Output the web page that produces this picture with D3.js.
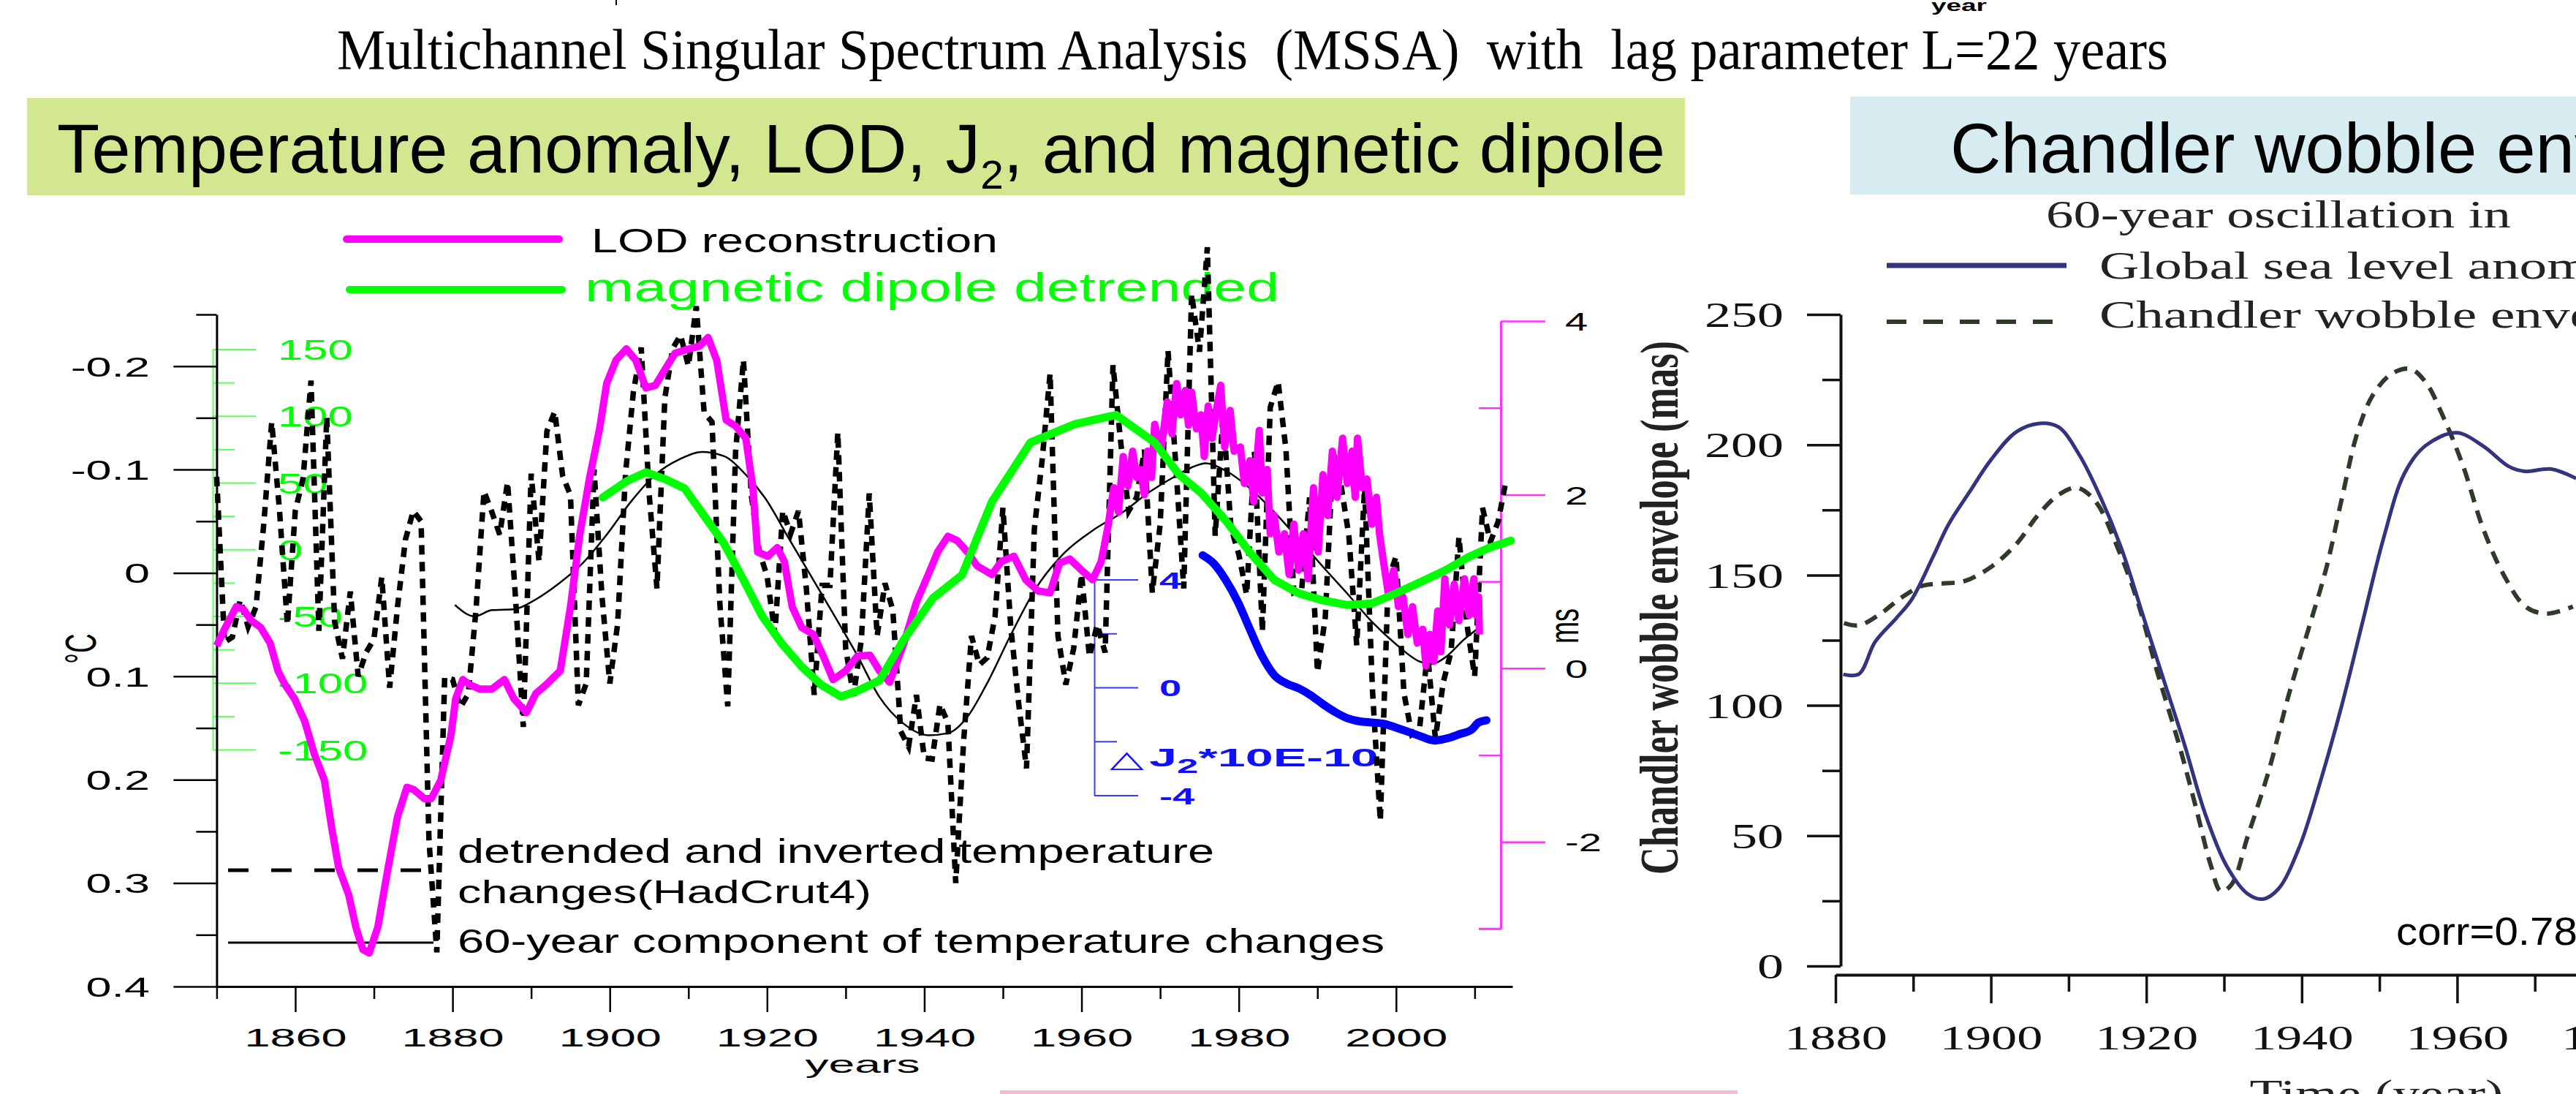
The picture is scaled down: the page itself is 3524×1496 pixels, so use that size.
<!DOCTYPE html>
<html>
<head>
<meta charset="utf-8">
<script src="https://d3js.org/d3.v7.min.js"></script>
<style>
  html, body { margin: 0; padding: 0; background: #fff; overflow: hidden; }
  svg { display: block; }
</style>
</head>
<body>
<svg id="chart"></svg>
<script>
// ---------------- data ----------------
// detrended HadCrut4 temperature, one value per year from 1850
const tempStart = 1850;
const tempDetrended = [
  -0.093, 0.067, 0.062, 0.026, 0.052, 0.033, -0.048, -0.146, -0.060, 0.050,
  -0.060, -0.092, -0.186, 0.056, -0.151, 0.047, 0.083, 0.018, 0.100, 0.077,
  0.064, 0.004, 0.111, 0.033, -0.032, -0.060, -0.050, 0.258, 0.367, 0.101,
  0.103, 0.130, 0.117, 0.034, -0.079, -0.059, -0.037, -0.088, 0.023, 0.149,
  -0.096, -0.011, -0.137, -0.156, -0.094, -0.075, 0.128, 0.107, -0.100, 0.022,
  0.107, 0.049, -0.096, -0.175, -0.218, -0.077, 0.015, -0.169, -0.217, -0.230,
  -0.200, -0.258, -0.155, -0.146, 0.030, 0.129, -0.117, -0.206, -0.075, -0.021,
  0.003, 0.059, -0.060, -0.038, -0.060, 0.015, 0.118, 0.012, 0.012, -0.136,
  0.073, 0.119, 0.064, -0.077, 0.061, 0.010, 0.036, 0.153, 0.168, 0.118,
  0.179, 0.180, 0.127, 0.145, 0.300, 0.163, 0.061, 0.089, 0.082, 0.042,
  -0.063, 0.052, 0.126, 0.189, -0.043, -0.110, -0.193, 0.061, 0.108, 0.073,
  0.001, 0.081, 0.050, 0.077, -0.201, -0.125, -0.060, -0.073, -0.119, 0.019,
  -0.047, -0.215, -0.103, 0.015, -0.270, -0.214, -0.315, -0.036, -0.154, -0.044,
  -0.018, 0.021, -0.117, 0.057, -0.160, -0.185, -0.119, 0.019, 0.016, -0.073,
  0.096, 0.043, -0.117, -0.085, -0.036, 0.070, -0.083, 0.113, 0.240, 0.007,
  -0.016, 0.116, 0.156, 0.150, 0.077, 0.160, 0.106, 0.076, -0.035, 0.049,
  0.100, -0.063, -0.030, -0.050, -0.090
];

// 60-year component of temperature [year, degC]
const temp60 = [
  [1880.3, 0.031], [1882.8, 0.042], [1885.0, 0.036], [1887.9, 0.035], [1890.5, 0.026],
  [1893.4, 0.011], [1896.5, -0.009], [1899.6, -0.037], [1902.7, -0.069], [1905.8, -0.095],
  [1908.9, -0.110], [1911.7, -0.117], [1914.5, -0.113], [1917.3, -0.095], [1919.7, -0.073],
  [1922.8, -0.033], [1925.9, 0.007], [1929.0, 0.047], [1931.5, 0.080], [1934.3, 0.120],
  [1937.4, 0.146], [1940.5, 0.157], [1943.0, 0.155], [1945.5, 0.139], [1947.9, 0.108],
  [1951.0, 0.060], [1954.1, 0.016], [1957.9, -0.020], [1961.6, -0.042], [1965.3, -0.059],
  [1968.4, -0.077], [1971.8, -0.093], [1974.0, -0.102], [1975.8, -0.106], [1978.3, -0.099],
  [1981.4, -0.082], [1984.5, -0.059], [1987.6, -0.033], [1990.7, -0.006], [1993.8, 0.020],
  [1996.9, 0.047], [2000.0, 0.069], [2003.1, 0.086], [2004.6, 0.088], [2006.2, 0.082],
  [2008.7, 0.064], [2010.2, 0.055]
];

// LOD reconstruction [year, ms]
const lodSmooth = [
  [1850.0, 0.26], [1851.0, 0.45], [1852.5, 0.71], [1853.4, 0.68], [1854.4, 0.55], [1855.6, 0.47],
  [1856.8, 0.29], [1857.8, -0.03], [1858.7, -0.19], [1859.9, -0.35], [1861.2, -0.61], [1862.4, -0.98],
  [1863.7, -1.29], [1864.6, -1.82], [1865.5, -2.29], [1866.8, -2.61], [1867.7, -2.98], [1868.6, -3.24],
  [1869.4, -3.28], [1870.5, -2.98], [1871.7, -2.35], [1873.0, -1.71], [1874.2, -1.37], [1875.1, -1.40],
  [1876.4, -1.50], [1877.3, -1.50], [1878.5, -1.29], [1879.8, -0.77], [1880.4, -0.35], [1881.3, -0.13],
  [1882.2, -0.19], [1883.5, -0.24], [1885.0, -0.24], [1886.6, -0.13], [1887.8, -0.35], [1889.4, -0.51],
  [1890.6, -0.29], [1891.9, -0.19], [1893.7, -0.03], [1895.0, 0.71], [1896.2, 1.55], [1897.4, 2.18],
  [1898.7, 2.76], [1899.6, 3.28], [1900.8, 3.55], [1902.1, 3.68], [1903.3, 3.55], [1904.6, 3.23],
  [1905.8, 3.26], [1907.0, 3.44], [1908.3, 3.63], [1910.1, 3.68], [1911.4, 3.71], [1912.5, 3.81],
  [1913.6, 3.55], [1914.8, 2.86], [1916.0, 2.79], [1917.3, 2.65], [1918.2, 2.08], [1918.8, 1.34],
  [1920.1, 1.29], [1921.3, 1.39], [1922.2, 1.23], [1923.2, 0.71], [1924.4, 0.47], [1925.9, 0.39],
  [1927.2, 0.13], [1928.4, -0.13], [1930.0, -0.03], [1931.5, 0.14], [1933.1, 0.15], [1934.3, -0.03],
  [1935.6, -0.16], [1937.4, 0.29], [1939.0, 0.76], [1940.5, 1.08], [1941.7, 1.34], [1943.0, 1.52],
  [1944.2, 1.47], [1945.5, 1.34], [1946.7, 1.18], [1948.6, 1.08], [1949.8, 1.23], [1951.4, 1.29],
  [1952.9, 1.02], [1954.5, 0.89], [1956.0, 0.87], [1957.2, 1.21], [1958.5, 1.26], [1960.0, 1.13],
  [1961.4, 1.02], [1962.5, 1.23]
];
// noisy (monthly) part of the LOD series
const lodRecent = [
  [1963.4, 1.65], [1963.8, 1.90], [1964.1, 2.08], [1964.7, 1.80], [1965.3, 2.44], [1965.9, 2.10],
  [1966.5, 2.50], [1967.0, 2.20], [1967.5, 2.29], [1968.0, 2.00], [1968.4, 2.50], [1968.9, 2.20],
  [1969.3, 2.81], [1970.1, 2.50], [1970.9, 3.07], [1971.5, 2.70], [1972.1, 3.28], [1972.6, 2.92],
  [1973.2, 3.20], [1973.6, 2.80], [1974.0, 3.18], [1974.6, 2.76], [1975.2, 2.92], [1975.6, 2.44],
  [1976.1, 3.02], [1976.6, 2.65], [1977.2, 3.00], [1977.7, 3.26], [1978.2, 2.55], [1978.9, 2.97],
  [1979.4, 2.50], [1980.2, 2.55], [1980.7, 2.13], [1981.4, 2.39], [1981.9, 1.92], [1982.6, 2.74],
  [1983.0, 2.02], [1983.6, 2.29], [1984.0, 1.55], [1984.5, 1.76], [1985.1, 1.34], [1985.8, 1.55],
  [1986.4, 1.08], [1987.0, 1.66], [1987.6, 1.13], [1988.2, 1.55], [1988.8, 1.03], [1989.5, 2.08],
  [1990.1, 1.34], [1990.7, 2.23], [1991.3, 1.76], [1991.9, 2.50], [1992.5, 1.97], [1993.2, 2.65],
  [1993.8, 2.13], [1994.4, 2.50], [1994.8, 1.97], [1995.1, 2.65], [1995.7, 2.08], [1996.3, 2.18],
  [1996.9, 1.66], [1997.5, 1.97], [1997.9, 1.55], [1998.4, 1.23], [1999.0, 0.87], [1999.7, 1.13],
  [2000.3, 0.71], [2000.9, 0.82], [2001.5, 0.39], [2002.1, 0.71], [2002.7, 0.29], [2003.4, 0.45],
  [2003.8, 0.03], [2004.3, 0.39], [2004.8, 0.08], [2005.3, 0.66], [2005.7, 0.19], [2006.2, 1.03],
  [2006.8, 0.50], [2007.4, 0.97], [2008.0, 0.55], [2008.7, 1.03], [2009.3, 0.61], [2009.9, 1.03],
  [2010.2, 0.61], [2010.5, 0.82], [2010.6, 0.39]
];

// magnetic dipole detrended [year, value]
const dipole = [
  [1899.1, 38.9], [1902.1, 51.0], [1904.6, 57.8], [1907.0, 52.7], [1909.5, 45.8], [1912.0, 25.2],
  [1914.5, 4.7], [1917.0, -22.8], [1919.4, -50.2], [1921.9, -70.8], [1924.4, -87.8], [1926.9, -101.5],
  [1929.4, -110.3], [1931.5, -106.0], [1934.3, -98.2], [1937.4, -67.5], [1941.1, -36.5], [1944.8, -19.2],
  [1948.6, 35.7], [1953.5, 80.1], [1959.1, 93.8], [1964.4, 100.7], [1969.3, 80.1], [1972.4, 56.0],
  [1975.2, 42.4], [1978.3, 21.9], [1981.4, -2.2], [1984.5, -22.8], [1987.6, -32.9], [1990.7, -38.2],
  [1993.8, -41.7], [1996.9, -40.6], [2000.0, -32.9], [2003.1, -24.5], [2006.2, -15.9], [2009.3, -5.5],
  [2011.8, 1.1], [2014.6, 6.6]
];

// delta J2 * 10E-10 [year, value]
const j2 = [
  [1975.4, 4.9], [1976.8, 4.6], [1978.3, 4.0], [1979.9, 3.16], [1981.4, 2.16], [1983.0, 1.14],
  [1984.5, 0.46], [1986.1, 0.14], [1987.6, -0.03], [1989.2, -0.30], [1990.7, -0.62], [1992.3, -0.92],
  [1993.8, -1.14], [1995.4, -1.26], [1996.9, -1.30], [1998.5, -1.35], [2000.0, -1.49], [2001.6, -1.65],
  [2003.1, -1.81], [2004.9, -1.97], [2006.5, -1.89], [2008.1, -1.73], [2009.6, -1.57], [2010.5, -1.30],
  [2011.5, -1.22]
];

// right panel: 60-year oscillation [year, mas]
const seaLevel = [
  [1881.0, 111.9], [1883.0, 112.0], [1885.1, 124.4], [1887.8, 133.4], [1889.8, 140.6], [1892.5, 156.7],
  [1894.5, 169.2], [1897.2, 181.7], [1900.0, 194.2], [1903.3, 205.0], [1906.3, 208.2], [1908.7, 206.8],
  [1911.4, 196.0], [1914.1, 179.9], [1916.8, 160.2], [1919.5, 135.2], [1922.2, 110.1], [1924.9, 85.1],
  [1927.6, 58.2], [1930.3, 38.6], [1933.0, 27.8], [1935.0, 25.7], [1937.0, 29.6], [1939.7, 45.7],
  [1942.4, 70.8], [1945.1, 99.4], [1947.8, 131.6], [1950.5, 163.8], [1953.2, 188.9], [1955.9, 199.6],
  [1959.9, 204.6], [1963.3, 199.6], [1966.7, 191.6], [1968.7, 189.8], [1972.0, 190.7], [1975.3, 187.1]
];
const chandler = [
  [1881.1, 131.6], [1883.0, 130.7], [1885.8, 135.2], [1888.5, 141.4], [1891.2, 145.9], [1893.9, 146.8],
  [1896.6, 147.7], [1900.0, 153.1], [1903.3, 162.0], [1906.0, 172.8], [1908.7, 180.8], [1911.1, 183.5],
  [1913.5, 178.1], [1916.1, 162.0], [1918.8, 140.6], [1921.5, 111.9], [1924.2, 85.1], [1926.3, 61.8],
  [1928.3, 38.6], [1929.6, 28.7], [1931.0, 31.4], [1933.0, 49.3], [1935.7, 74.3], [1938.4, 104.8],
  [1941.1, 131.6], [1943.2, 153.1], [1945.2, 179.9], [1947.2, 205.0], [1949.2, 219.3], [1951.6, 227.3],
  [1954.0, 229.1], [1956.0, 223.8], [1958.0, 212.1], [1960.7, 192.4], [1963.4, 167.4], [1966.1, 149.5],
  [1968.8, 137.9], [1971.5, 135.2], [1974.9, 137.9]
];

// ticks
const tempTicks = [-0.2, -0.1, 0, 0.1, 0.2, 0.3, 0.4];
const tempMinor = [-0.25, -0.15, -0.05, 0.05, 0.15, 0.25, 0.35];
const dipoleTicks = [-150, -100, -50, 0, 50, 100, 150];
const dipoleMinor = [-125, -75, -25, 25, 75, 125];
const lodTicks = [-2, 0, 2, 4];
const lodMinor = [-3, -1, 1, 3];
const j2Ticks = [-4, 0, 4];
const j2Minor = [-2, 2];
const yearTicksL = [1860, 1880, 1900, 1920, 1940, 1960, 1980, 2000];
const yearMinorL = [1850, 1870, 1890, 1910, 1930, 1950, 1970, 1990, 2010];
const envTicks = [0, 50, 100, 150, 200, 250];
const envMinor = [25, 75, 125, 175, 225];
const yearTicksR = [1880, 1900, 1920, 1940, 1960, 1980];
const yearMinorR = [1890, 1910, 1930, 1950, 1970];

// ---------------- drawing ----------------
const W = 3524, H = 1496;
const SANS = "'Liberation Sans', Arial, sans-serif";
const SERIF = "'Liberation Serif', 'Times New Roman', serif";

const svg = d3.select("#chart").attr("width", W).attr("height", H);
svg.append("rect").attr("width", W).attr("height", H).attr("fill", "#fff");

// text helper: position, optional rotation, stretch
function txt(x, y, s, o) {
  o = o || {};
  let tr = `translate(${x},${y})`;
  if (o.rot) tr += ` rotate(${o.rot})`;
  if (o.sx || o.sy) tr += ` scale(${o.sx || 1},${o.sy || 1})`;
  const t = svg.append("text")
    .attr("transform", tr)
    .attr("font-family", o.font || SANS)
    .attr("font-size", o.fs || 40)
    .attr("font-weight", o.fw || "normal")
    .attr("fill", o.fill || "#000")
    .attr("text-anchor", o.anchor || "start")
    .style("white-space", "pre")
    .text(s);
  if (o.len) t.attr("textLength", o.len).attr("lengthAdjust", "spacingAndGlyphs");
  return t;
}

// axis helper
function drawAxis(axis, tx, ty, o) {
  const g = svg.append("g").attr("transform", `translate(${tx},${ty})`).call(axis);
  g.attr("font-family", null).attr("font-size", null);
  g.selectAll(".tick line").attr("stroke", o.color).attr("stroke-width", o.tw);
  if (o.domain) g.select(".domain").attr("stroke", o.color).attr("stroke-width", o.dw || o.tw);
  else g.select(".domain").remove();
  g.selectAll(".tick text")
    .attr("x", null).attr("y", null).attr("dy", o.dy || null)
    .attr("transform", `translate(${o.lx || 0},${o.ly || 0}) scale(${o.sx || 1},1)`)
    .attr("text-anchor", o.anchor || "middle")
    .attr("font-family", o.font || SANS)
    .attr("font-size", o.fs || 36)
    .attr("font-weight", o.fw || "normal")
    .attr("fill", o.tcolor || "#000");
  return g;
}

// top remnants and main title
svg.append("line").attr("x1", 843).attr("x2", 843).attr("y1", 0).attr("y2", 7)
  .attr("stroke", "#000").attr("stroke-width", 2);
txt(2680, 15, "year", { fs: 22, fw: "bold", anchor: "middle", len: 76 });
txt(461, 94, "Multichannel Singular Spectrum Analysis  (MSSA)  with  lag parameter L=22 years",
  { font: SERIF, fs: 78, len: 2505 });

// panel title boxes
svg.append("rect").attr("x", 37).attr("y", 134).attr("width", 2268).attr("height", 133).attr("fill", "#d3e690");
svg.append("rect").attr("x", 2531).attr("y", 132).attr("width", 1000).attr("height", 134).attr("fill", "#d7ecf0");
svg.append("rect").attr("x", 1368).attr("y", 1491).attr("width", 1009).attr("height", 8).attr("fill", "#f8b9d4");

const t1 = txt(78, 236, "", { fs: 94, len: 2200 });
t1.append("tspan").text("Temperature anomaly, LOD, J");
t1.append("tspan").attr("font-size", 56).attr("dy", 22).text("2");
t1.append("tspan").attr("dy", -22).text(", and magnetic dipole");
txt(2668, 236, "Chandler wobble envelope", { fs: 96 });

// ================= left panel =================
const xL = d3.scaleLinear().domain([1850, 2014.8]).range([296.4, 2069]);
const yT = d3.scaleLinear().domain([-0.25, 0.4]).range([430, 1349]);
const yG = d3.scaleLinear().domain([-150, 150]).range([1025, 477.5]);
const yM = d3.scaleLinear().domain([-3, 4]).range([1270, 439]);
const yJ = d3.scaleLinear().domain([-4, 4]).range([1087.5, 792.5]);

const fmt = d => String(d);

// green dipole axis
drawAxis(d3.axisRight(yG).tickValues(dipoleMinor).tickSize(30).tickSizeOuter(0).tickFormat(""), 291, 0,
  { color: "#5cff5c", tw: 2 });
drawAxis(d3.axisRight(yG).tickValues(dipoleTicks).tickSize(59).tickSizeOuter(0).tickFormat(fmt), 291, 0,
  { color: "#5cff5c", tw: 2, domain: true, dw: 2, lx: 380 - 291, dy: "0.36em", sx: 1.58, fs: 39,
    anchor: "start", tcolor: "#00ff00" });

// temperature axis (inverted)
drawAxis(d3.axisLeft(yT).tickValues(tempMinor).tickSize(28).tickSizeOuter(0).tickFormat(""), 296.4, 0,
  { color: "#000", tw: 2.5 });
drawAxis(d3.axisLeft(yT).tickValues(tempTicks).tickSize(59).tickSizeOuter(0).tickFormat(fmt), 296.4, 0,
  { color: "#000", tw: 2.5, domain: true, dw: 3, lx: 205 - 296.4, dy: "0.36em", sx: 1.7, fs: 37,
    anchor: "end" });

// year axis
drawAxis(d3.axisBottom(xL).tickValues(yearMinorL).tickSize(17).tickSizeOuter(0).tickFormat(""), 0, 1349,
  { color: "#000", tw: 2.5 });
drawAxis(d3.axisBottom(xL).tickValues(yearTicksL).tickSize(35).tickSizeOuter(0).tickFormat(fmt), 0, 1349,
  { color: "#000", tw: 2.5, domain: true, dw: 3, ly: 82, sx: 1.8, fs: 35, anchor: "middle" });

// LOD axis (ms) on the right
drawAxis(d3.axisLeft(yM).tickValues(lodMinor).tickSize(30).tickSizeOuter(0).tickFormat(""), 2053, 0,
  { color: "#ff33ff", tw: 2.5 });
drawAxis(d3.axisRight(yM).tickValues(lodTicks).tickSize(61).tickSizeOuter(0).tickFormat(fmt), 2053, 0,
  { color: "#ff33ff", tw: 2.5, domain: true, dw: 3, lx: 2141 - 2053, dy: "0.36em", sx: 1.6, fs: 35,
    anchor: "start" });
svg.append("line").attr("x1", 2023).attr("x2", 2053).attr("y1", yM(-3)).attr("y2", yM(-3))
  .attr("stroke", "#ff33ff").attr("stroke-width", 2.5);

// J2 axis
drawAxis(d3.axisRight(yJ).tickValues(j2Minor).tickSize(31).tickSizeOuter(0).tickFormat(""), 1497, 0,
  { color: "#3a3aff", tw: 2 });
drawAxis(d3.axisRight(yJ).tickValues(j2Ticks).tickSize(60).tickSizeOuter(0).tickFormat(fmt), 1497, 0,
  { color: "#3a3aff", tw: 2, domain: true, dw: 2, lx: 1586 - 1497, dy: "0.36em", sx: 1.7, fs: 32,
    anchor: "start", fw: "bold", tcolor: "#1010ff" });

// axis labels
txt(131, 887, "\u00B0C", { fs: 37, rot: -90, sy: 1.6, anchor: "middle" });
txt(2159, 856, "ms", { fs: 36, rot: -90, sy: 1.6, anchor: "middle" });
txt(1180, 1467, "years", { fs: 33, anchor: "middle", len: 157 });

// legends
svg.append("line").attr("x1", 474).attr("x2", 765).attr("y1", 327).attr("y2", 327)
  .attr("stroke", "#ff00ff").attr("stroke-width", 10).attr("stroke-linecap", "round");
txt(809, 345, "LOD reconstruction", { fs: 47, len: 556 });
svg.append("line").attr("x1", 478).attr("x2", 769).attr("y1", 396).attr("y2", 396)
  .attr("stroke", "#00ff00").attr("stroke-width", 10).attr("stroke-linecap", "round");
txt(800, 412, "magnetic dipole detrended", { fs: 56, len: 950, fill: "#00ff00" });

svg.append("line").attr("x1", 312).attr("x2", 589).attr("y1", 1190).attr("y2", 1190)
  .attr("stroke", "#000").attr("stroke-width", 5).attr("stroke-dasharray", "28 31");
svg.append("line").attr("x1", 312).attr("x2", 593).attr("y1", 1289).attr("y2", 1289)
  .attr("stroke", "#000").attr("stroke-width", 3);
txt(626, 1180, "detrended and inverted temperature", { fs: 46, len: 1035 });
txt(626, 1235, "changes(HadCrut4)", { fs: 44, len: 566 });
txt(626, 1303, "60-year component of temperature changes", { fs: 46, len: 1268 });

// J2 label
txt(1518, 1049, "\u25B3", { font: "'DejaVu Sans', sans-serif", fs: 32, sx: 1.9, fill: "#1010ff" });
const jl = txt(1572, 1048, "", { fs: 35, fw: "bold", fill: "#1010ff", sx: 1.95 });
jl.append("tspan").text("J");
jl.append("tspan").attr("font-size", 27).attr("dy", 9).text("2");
jl.append("tspan").attr("dy", -9).text("*10E-10");

// data lines
const tempPts = tempDetrended.map((v, i) => [tempStart + i, v]);
svg.append("path").datum(tempPts)
  .attr("d", d3.line().x(d => xL(d[0])).y(d => yT(d[1])))
  .attr("fill", "none").attr("stroke", "#000").attr("stroke-width", 7.5)
  .attr("stroke-dasharray", "13 10");

svg.append("path").datum(temp60)
  .attr("d", d3.line().curve(d3.curveMonotoneX).x(d => xL(d[0])).y(d => yT(d[1])))
  .attr("fill", "none").attr("stroke", "#000").attr("stroke-width", 2.5);

svg.append("path").datum(lodSmooth.concat(lodRecent))
  .attr("d", d3.line().x(d => xL(d[0])).y(d => yM(d[1])))
  .attr("fill", "none").attr("stroke", "#ff00ff").attr("stroke-width", 10)
  .attr("stroke-linejoin", "round");

svg.append("path").datum(dipole)
  .attr("d", d3.line().x(d => xL(d[0])).y(d => yG(d[1])))
  .attr("fill", "none").attr("stroke", "#00ff00").attr("stroke-width", 11)
  .attr("stroke-linejoin", "round").attr("stroke-linecap", "round");

svg.append("path").datum(j2)
  .attr("d", d3.line().curve(d3.curveMonotoneX).x(d => xL(d[0])).y(d => yJ(d[1])))
  .attr("fill", "none").attr("stroke", "#0000ff").attr("stroke-width", 11)
  .attr("stroke-linecap", "round");

// ================= right panel =================
const xR = d3.scaleLinear().domain([1880, 1980]).range([2511, 3574]);
const yR = d3.scaleLinear().domain([0, 250]).range([1321, 430]);

drawAxis(d3.axisLeft(yR).tickValues(envMinor).tickSize(25).tickSizeOuter(0).tickFormat(""), 2518, 0,
  { color: "#111", tw: 3.5 });
drawAxis(d3.axisLeft(yR).tickValues(envTicks).tickSize(46).tickSizeOuter(0).tickFormat(fmt), 2518, 0,
  { color: "#111", tw: 3.5, domain: true, dw: 4, lx: 2440 - 2518, dy: "0.34em", sx: 1.47, fs: 49,
    anchor: "end", font: SERIF, tcolor: "#111" });
drawAxis(d3.axisBottom(xR).tickValues(yearMinorR).tickSize(23).tickSizeOuter(0).tickFormat(""), 0, 1333,
  { color: "#111", tw: 3.5 });
drawAxis(d3.axisBottom(xR).tickValues(yearTicksR).tickSize(39).tickSizeOuter(0).tickFormat(fmt), 0, 1333,
  { color: "#111", tw: 3.5, domain: true, dw: 4, ly: 102, sx: 1.53, fs: 46, anchor: "middle",
    font: SERIF, tcolor: "#111" });

txt(2295, 831, "Chandler wobble envelope (mas)",
  { font: SERIF, fw: "bold", fs: 51, rot: -90, sy: 1.45, anchor: "middle", len: 730, fill: "#222" });
txt(3251, 1513, "Time (year)", { font: SERIF, fs: 53, sx: 1.39, anchor: "middle", fill: "#222" });
txt(2799, 311, "60-year oscillation in", { font: SERIF, fs: 53, len: 636, fill: "#222" });
svg.append("line").attr("x1", 2581).attr("x2", 2827).attr("y1", 363).attr("y2", 363)
  .attr("stroke", "#33337f").attr("stroke-width", 7);
txt(2872, 381, "Global sea level anomaly", { font: SERIF, fs: 53, sx: 1.42, fill: "#222" });
svg.append("line").attr("x1", 2581).attr("x2", 2808).attr("y1", 440).attr("y2", 440)
  .attr("stroke", "#2f3a2a").attr("stroke-width", 6).attr("stroke-dasharray", "27 23");
txt(2872, 448, "Chandler wobble envelope", { font: SERIF, fs: 53, sx: 1.42, fill: "#222" });
txt(3278, 1292, "corr=0.78", { fs: 53, sx: 1.1 });

svg.append("path").datum(chandler)
  .attr("d", d3.line().curve(d3.curveCatmullRom).x(d => xR(d[0])).y(d => yR(d[1])))
  .attr("fill", "none").attr("stroke", "#2f3a2a").attr("stroke-width", 6)
  .attr("stroke-dasharray", "18 12");
svg.append("path").datum(seaLevel)
  .attr("d", d3.line().curve(d3.curveCatmullRom).x(d => xR(d[0])).y(d => yR(d[1])))
  .attr("fill", "none").attr("stroke", "#33337f").attr("stroke-width", 5);
</script>
</body>
</html>
